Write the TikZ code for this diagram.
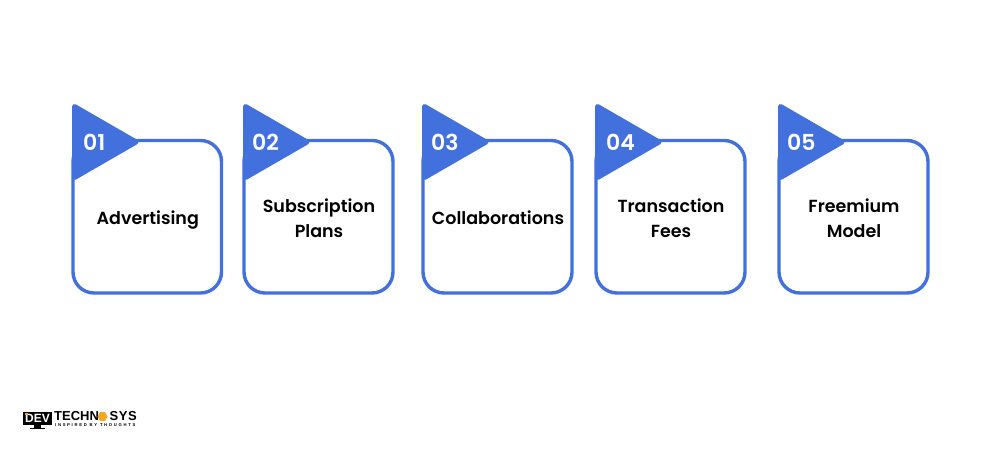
\documentclass[tikz,border=0pt]{standalone}
\usepackage{fontspec}
\setmainfont{Poppins}
\newfontfamily\labelfont{Poppins}[UprightFont=* SemiBold]
\newfontfamily\logofont{Liberation Sans}
\newfontfamily\sysfont{Liberation Sans}[LetterSpace=4]
\newfontfamily\tagfont{Liberation Sans}[LetterSpace=40]
\usetikzlibrary{shapes.geometric}
\definecolor{brandblue}{HTML}{4270DC}
\definecolor{logoorange}{HTML}{F5A623}
\newcommand{\ls}{\rule[-5pt]{0pt}{18pt}}
\tikzset{
  x=1pt,y=-1pt,
  cardbox/.style={draw=brandblue,line width=3.4pt,fill=white,rounded corners=21pt},
  flag/.style={fill=brandblue,draw=brandblue,line width=5pt,line join=round},
  numtext/.style={text=white,font=\labelfont\fontsize{22}{22}\selectfont,inner sep=0pt,anchor=west},
  cardtext/.style={text=black,font=\labelfont\fontsize{17.5}{25}\selectfont,align=center,inner sep=0pt},
}
\newcommand{\card}[6]{% left, right, id, number, text, number offset
  \draw[cardbox] (#1,140.5) rectangle (#2,293);
  \draw[flag] (#1+1.5,106.5) -- (#1+63,142) -- (#1+1.5,177.5) -- cycle;
  \node[numtext] (num#3) at (#1+#6,142.5) {#4};
  \node[cardtext] (label#3) at ({(#1+#2)/2+0.5},220.5) {#5};
}
\begin{document}
\begin{tikzpicture}
\useasboundingbox (0,0) rectangle (1000,450);
\fill[white] (0,0) rectangle (1000,450);
\card{73}{221.5}{a}{01}{\ls Advertising}{10}
\card{244}{393}{b}{02}{\ls Subscription\\\ls Plans}{8}
\card{423}{572}{c}{03}{\ls Collaborations}{8}
\card{596}{745}{d}{04}{\ls Transaction\\\ls Fees}{10}
\card{779}{928}{e}{05}{\ls Freemium\\\ls Model}{8}
% logo
\fill[black] (23,411.5) rectangle (52,424.5);
\node[text=white,font=\logofont\bfseries\fontsize{12}{12}\selectfont,inner sep=0pt] (logodev) at (37.5,418) {DEV};
\fill[logoorange] (25,413) rectangle (28,414.5);
\fill[black] (34,424.5) rectangle (41,427.5);
\fill[black] (30,427.5) rectangle (45,429);
\node[text=black,font=\logofont\bfseries\fontsize{13}{13}\selectfont,inner sep=0pt,anchor=west] (logotech) at (54,416.5) {TECHN};
\node[regular polygon,regular polygon sides=6,fill=logoorange,inner sep=0pt,minimum size=10pt] (logohex) at (102.5,416.5) {};
\node[text=black,font=\sysfont\bfseries\fontsize{13}{13}\selectfont,inner sep=0pt,anchor=west] (logosys) at (109.5,416.5) {SYS};
\node[text=black,font=\tagfont\bfseries\fontsize{4.2}{5}\selectfont,inner sep=0pt,anchor=west] (logotag) at (55,425) {INSPIRED BY THOUGHTS};
\end{tikzpicture}
\end{document}
